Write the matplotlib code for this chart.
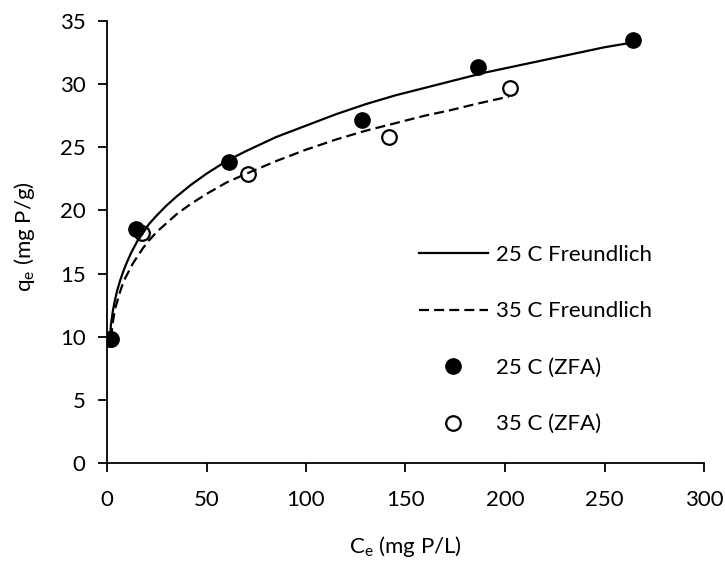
import matplotlib
matplotlib.use("Agg")
import matplotlib.pyplot as plt

# Measured data (ZFA)
ce_25 = [1.5, 14.6, 61.5, 128.3, 186.3, 264.5]
qe_25 = [9.8, 18.5, 23.85, 27.15, 31.35, 33.5]
ce_35 = [2.0, 17.4, 70.7, 141.7, 202.4]
qe_35 = [9.8, 18.2, 22.9, 25.8, 29.7]

# Freundlich curves
fit_x_25 = [1.5, 2, 3, 4, 5, 6.5, 8, 10, 12, 15, 18, 21, 25, 30, 35, 42, 50, 60, 70, 85,
            100, 115, 130, 145, 160, 175, 190, 205, 220, 235, 250, 265]
fit_y_25 = [9.9, 11.0, 12.1, 12.9, 13.6, 14.4, 15.1, 15.9, 16.6, 17.5, 18.2, 18.9, 19.6,
            20.4, 21.1, 22.0, 22.9, 23.9, 24.7, 25.8, 26.7, 27.6, 28.4, 29.1, 29.7, 30.3,
            30.9, 31.4, 31.9, 32.4, 32.9, 33.3]
fit_x_35 = [2, 3, 4, 5, 6, 7.5, 9, 11, 13, 15.5, 18, 21, 25, 30, 35, 42, 50, 60, 70, 85,
            100, 115, 130, 145, 160, 172, 185, 202]
fit_y_35 = [9.9, 11.2, 12.2, 12.7, 13.3, 14.0, 14.6, 15.2, 15.8, 16.4, 17.0, 17.6, 18.3,
            19.0, 19.7, 20.5, 21.3, 22.2, 22.9, 23.9, 24.8, 25.6, 26.3, 26.9, 27.5, 27.9,
            28.4, 29.0]

x_ticks = [0, 50, 100, 150, 200, 250, 300]
y_ticks = [0, 5, 10, 15, 20, 25, 30, 35]

plt.rcParams['font.family'] = ['Lato', 'DejaVu Sans']
FS = 16
fig = plt.figure(figsize=(7.25, 5.69), dpi=100)
ax = fig.add_axes([107/725, (569-463.3)/569, (704-107)/725, (463.3-20.7)/569])

ax.plot(fit_x_25, fit_y_25, color='black', lw=1.6, label='25 C Freundlich')
ax.plot(fit_x_35, fit_y_35, color='black', lw=1.6, ls=(0, (4.5, 2.3)), label='35 C Freundlich')
ax.plot(ce_25, qe_25, ls='none', marker='o', ms=11, mfc='black', mec='black', label='25 C (ZFA)', zorder=4)
ax.plot(ce_35, qe_35, ls='none', marker='o', ms=10.5, mfc='none', mec='black', mew=1.6, label='35 C (ZFA)', zorder=5)

ax.set_xlim(0, 300)
ax.set_ylim(0, 35)
ax.set_xticks(x_ticks)
ax.set_yticks(y_ticks)
for s in ['top', 'right']:
    ax.spines[s].set_visible(False)
for s in ['left', 'bottom']:
    ax.spines[s].set_linewidth(1.3)
ax.tick_params(axis='both', direction='out', length=6.5, width=1.3, labelsize=FS)
ax.tick_params(axis='y', pad=9)
ax.tick_params(axis='x', pad=13)

ax.set_xlabel('C$_\\mathregular{e}$ (mg P/L)', fontsize=FS)
ax.set_ylabel('q$_\\mathregular{e}$ (mg P/g)', fontsize=FS)
ax.xaxis.set_label_coords(0.5, (463.3 - 534) / 442.6)
ax.yaxis.set_label_coords((37 - 107) / 597, (463.3 - 237) / 442.6)

leg = ax.legend(loc='upper left', bbox_to_anchor=((419 - 107) / 597, (463.3 - 245) / 442.6),
                frameon=False, fontsize=FS, labelspacing=1.64, handlelength=3.1,
                handletextpad=0.36, borderaxespad=0, borderpad=0)

fig.savefig('out.png', dpi=100)
